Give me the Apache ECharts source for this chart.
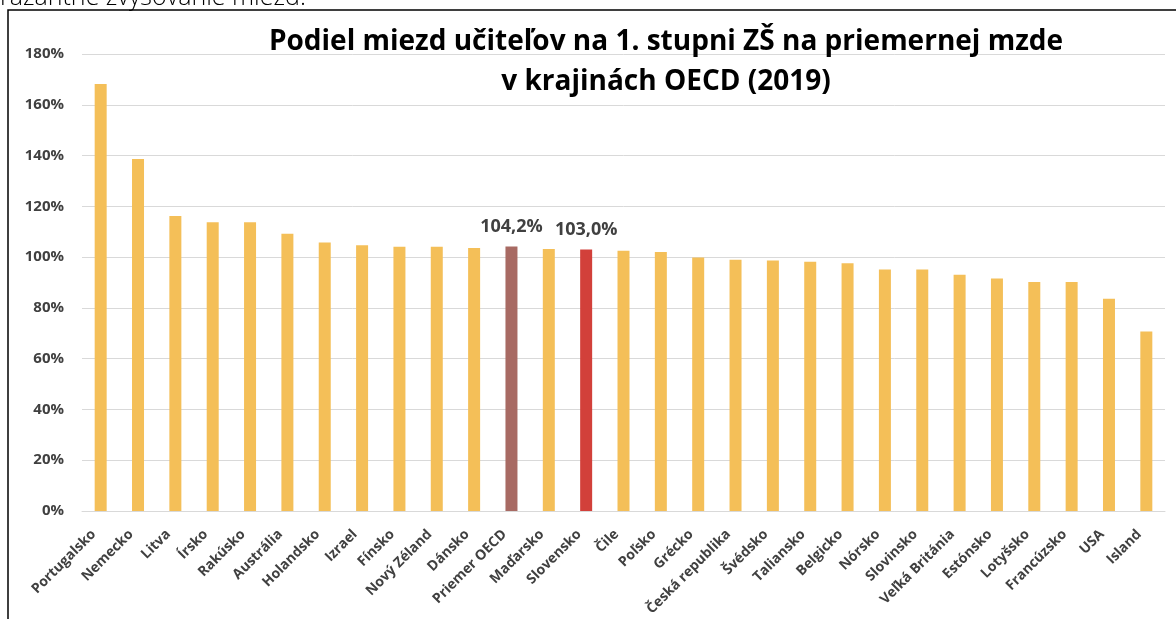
<!DOCTYPE html>
<html>
<head>
<meta charset="utf-8">
<style>
    html, body { margin: 0; padding: 0; background: #fff; }
    #container { width: 1176px; height: 619px; }
</style>
<script src="https://cdn.jsdelivr.net/npm/echarts@6/dist/echarts.min.js"></script>
</head>
<body>
<div id="container"></div>
<script>
var dom = document.getElementById('container');
var myChart = echarts.init(dom, null, {
    renderer: 'canvas',
    useDirtyRect: false
});

// krajiny a podiel miezd (v %)
var krajiny = ['Portugalsko', 'Nemecko', 'Litva', 'Írsko', 'Rakúsko', 'Austrália', 'Holandsko', 'Izrael',
    'Fínsko', 'Nový Zéland', 'Dánsko', 'Priemer OECD', 'Maďarsko', 'Slovensko', 'Čile', 'Poľsko',
    'Grécko', 'Česká republika', 'Švédsko', 'Taliansko', 'Belgicko', 'Nórsko', 'Slovinsko',
    'Veľká Británia', 'Estónsko', 'Lotyšsko', 'Francúzsko', 'USA', 'Island'];
var podiel = [168.2, 138.6, 116.2, 113.7, 113.7, 109.2, 105.8, 104.7,
    104.1, 104.1, 103.6, 104.2, 103.2, 103.0, 102.5, 102.0,
    99.8, 99.0, 98.7, 98.2, 97.6, 95.1, 95.1,
    93.1, 91.6, 90.2, 90.2, 83.6, 70.7];
var zvyraznene = { 'Priemer OECD': '#a86a63', 'Slovensko': '#d2403a' };
var yTicks = { min: 0, max: 180, interval: 20 };

var fontFam = '"Open Sans", "Noto Sans", sans-serif';

var barData = krajiny.map(function (k, i) {
    var item = { value: podiel[i] };
    if (zvyraznene[k]) {
        item.itemStyle = { color: zvyraznene[k] };
        item.label = {
            show: true,
            position: 'top',
            distance: 11,
            formatter: function (p) {
                return p.value.toFixed(1).replace('.', ',') + '%';
            },
            color: '#404040',
            fontWeight: 'bold',
            fontSize: 18,
            fontFamily: fontFam
        };
    }
    return item;
});

var option = {
    animation: false,
    backgroundColor: '#fff',
    title: {
        text: 'Podiel miezd učiteľov na 1. stupni ZŠ na priemernej mzde\nv krajinách OECD (2019)',
        left: 661,
        top: 17,
        textAlign: 'center',
        textStyle: {
            color: '#000',
            fontSize: 28,
            fontWeight: 'bold',
            fontFamily: fontFam,
            lineHeight: 40
        }
    },
    graphic: [
        {
            type: 'text',
            left: 0,
            top: -15,
            style: {
                text: 'rázantné zvyšovanie miezd.',
                fill: '#000',
                font: '300 25px "Open Sans", sans-serif'
            }
        },
        {
            type: 'rect',
            shape: { x: 8, y: 10, width: 1200, height: 700 },
            style: { fill: '#fff', stroke: '#000', lineWidth: 1.5 },
            z: -1
        }
    ],
    grid: {
        left: 82,
        right: 11,
        top: 54,
        bottom: 108
    },
    xAxis: {
        type: 'category',
        data: krajiny,
        axisLine: { lineStyle: { color: '#d9d9d9' } },
        axisTick: { show: false },
        axisLabel: {
            interval: 0,
            rotate: 45,
            margin: 14,
            padding: [0, 10, 0, 0],
            color: '#404040',
            fontWeight: 'bold',
            fontSize: 14,
            fontFamily: fontFam
        }
    },
    yAxis: {
        type: 'value',
        min: yTicks.min,
        max: yTicks.max,
        interval: yTicks.interval,
        axisLine: { show: false },
        axisTick: { show: false },
        splitLine: { lineStyle: { color: '#d9d9d9' } },
        axisLabel: {
            formatter: '{value}%',
            margin: 18,
            color: '#404040',
            fontWeight: 'bold',
            fontSize: 15,
            fontFamily: fontFam
        }
    },
    series: [{
        type: 'bar',
        data: barData,
        barWidth: 12,
        itemStyle: { color: '#f4bf58' }
    }]
};

myChart.setOption(option);
</script>
</body>
</html>
